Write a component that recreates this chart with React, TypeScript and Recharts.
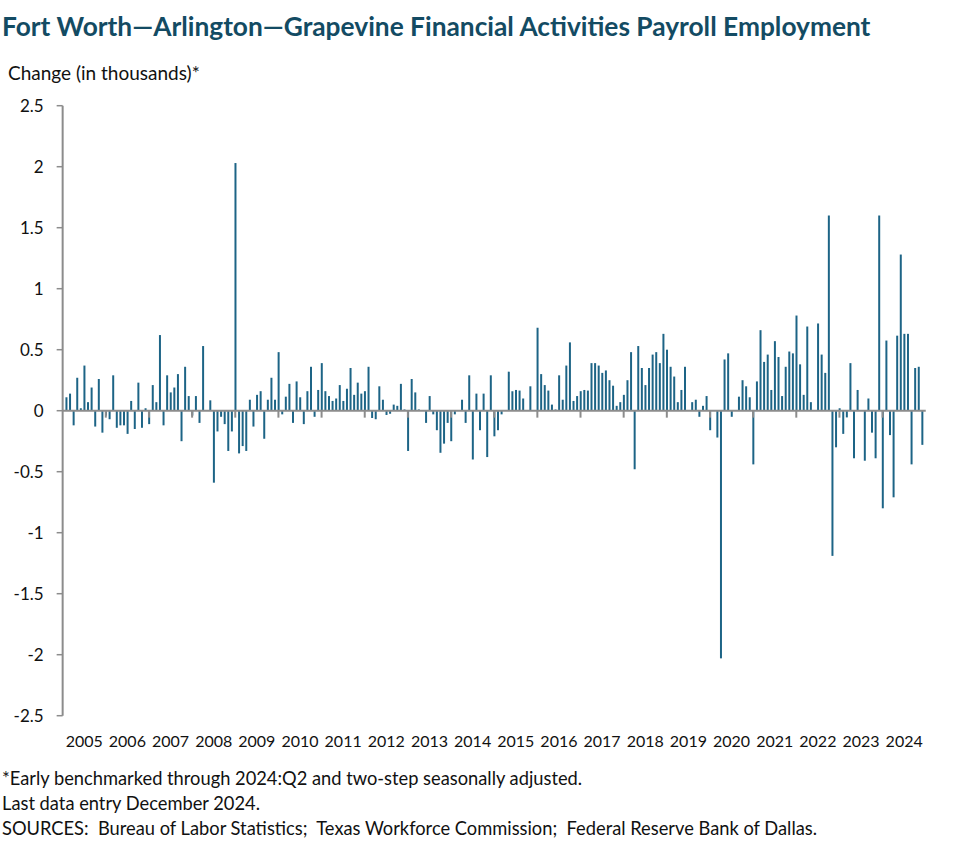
import { Bar, BarChart, ReferenceLine, XAxis, YAxis } from "recharts";

// year labels on the x axis
const years = [
  2005, 2006, 2007, 2008, 2009, 2010, 2011, 2012, 2013, 2014,
  2015, 2016, 2017, 2018, 2019, 2020, 2021, 2022, 2023, 2024,
];

// monthly change, thousands (Jan..Dec per row)
const changes = [
  0, 0.11, 0.14, -0.12, 0.27, 0.02, 0.37, 0.07, 0.19, -0.13, 0.26, -0.18, // 2005
  -0.04, -0.07, 0.29, -0.14, -0.12, -0.12, -0.19, 0.08, -0.15, 0.23, -0.14, 0.02, // 2006
  -0.11, 0.21, 0.07, 0.62, -0.12, 0.29, 0.15, 0.19, 0.3, -0.25, 0.36, 0.12, // 2007
  -0.04, 0.12, -0.1, 0.53, 0, 0.085, -0.59, -0.17, -0.05, -0.11, -0.33, -0.17, // 2008
  2.03, -0.35, -0.29, -0.33, 0.09, -0.13, 0.13, 0.16, -0.23, 0.09, 0.27, 0.09, // 2009
  0.48, -0.03, 0.115, 0.22, -0.1, 0.24, 0.11, -0.11, 0.16, 0.36, -0.05, 0.17, // 2010
  0.39, 0.16, 0.12, 0.08, 0.1, 0.21, 0.08, 0.18, 0.35, 0.13, 0.23, 0.14, // 2011
  0.16, 0.36, -0.06, -0.07, 0.2, 0.09, -0.035, -0.025, 0.05, 0.04, 0.22, 0.01, // 2012
  -0.33, 0.26, 0.15, 0.01, 0, -0.1, 0.12, -0.03, -0.16, -0.345, -0.27, -0.1, // 2013
  -0.25, -0.03, 0, 0.09, -0.1, 0.29, -0.4, 0.14, -0.16, 0.14, -0.38, 0.29, // 2014
  -0.21, -0.16, -0.03, 0, 0.32, 0.16, 0.17, 0.165, 0.1, 0, 0.2, 0, // 2015
  0.68, 0.3, 0.21, 0.165, 0.05, 0.01, 0.29, 0.09, 0.37, 0.56, 0.08, 0.12, // 2016
  0.16, 0.17, 0.165, 0.39, 0.39, 0.37, 0.31, 0.33, 0.25, 0.205, 0.04, 0.07, // 2017
  0.13, 0.25, 0.48, -0.48, 0.53, 0.35, 0.21, 0.35, 0.46, 0.48, 0.39, 0.63, // 2018
  0.5, 0.36, 0.28, 0.07, 0.17, 0.36, 0, 0.07, 0.09, -0.05, 0.04, 0.12, // 2019
  -0.16, 0, -0.22, -2.03, 0.42, 0.47, -0.05, 0, 0.115, 0.25, 0.2, 0.11, // 2020
  -0.44, 0.24, 0.66, 0.4, 0.46, 0.17, 0.57, 0.44, 0.12, 0.36, 0.485, 0.47, // 2021
  0.78, 0.38, 0.13, 0.69, 0.07, 0, 0.715, 0.46, 0.31, 1.6, -1.19, -0.3, // 2022
  0.02, -0.19, -0.055, 0.39, -0.39, 0.17, 0, -0.41, 0.1, -0.18, -0.39, 1.6, // 2023
  -0.8, 0.575, -0.2, -0.71, 0.615, 1.28, 0.63, 0.63, -0.44, 0.35, 0.36, -0.28, // 2024
];

const yTicks = [2.5, 2, 1.5, 1, 0.5, 0, -0.5, -1, -1.5, -2, -2.5];

const footnotes = [
  "*Early benchmarked through 2024:Q2 and two-step seasonally adjusted.",
  "Last data entry December 2024.",
  "SOURCES:  Bureau of Labor Statistics;  Texas Workforce Commission;  Federal Reserve Bank of Dallas.",
];

const data = changes.map((v, m) => ({ m, v }));
const yearTicks = years.map((_, i) => i * 12 + 6);
const yearEdges = years.slice(1).map((_, i) => (i + 1) * 12);

const FONT = "Lato, 'Noto Sans', sans-serif";
const GREY = "#8c8c8c";

export default function App() {
  return (
    <div
      style={{
        position: "absolute",
        left: 0,
        top: 0,
        width: 977,
        height: 864,
        background: "#fff",
        fontFamily: FONT,
        color: "#111",
      }}
    >
      <div
        style={{
          position: "absolute",
          left: 2,
          top: 10,
          fontSize: 26.3,
          lineHeight: "32px",
          fontWeight: 700,
          color: "#134b63",
          whiteSpace: "nowrap",
        }}
      >
        Fort Worth—Arlington—Grapevine Financial Activities Payroll Employment
      </div>
      <div
        style={{
          position: "absolute",
          left: 8,
          top: 61,
          fontSize: 19,
          lineHeight: "24px",
          whiteSpace: "nowrap",
        }}
      >
        Change (in thousands)*
      </div>

      <div style={{ position: "absolute", left: 0, top: 0 }}>
        <BarChart
          width={977}
          height={760}
          data={data}
          margin={{ top: 105.7, right: 51.25, bottom: 4.3, left: 0 }}
        >
          <XAxis
            type="number"
            dataKey="m"
            domain={[0, 240]}
            ticks={yearTicks}
            tickFormatter={(v) => String(years[(v - 6) / 12])}
            axisLine={false}
            tickLine={false}
            tickSize={0}
            tickMargin={19.6}
            height={40}
            interval={0}
            tick={{ fill: "#111", fontSize: 16, fontFamily: FONT }}
          />
          <YAxis
            type="number"
            domain={[-2.5, 2.5]}
            ticks={yTicks}
            width={62.65}
            interval={0}
            axisLine={{ stroke: GREY, strokeWidth: 2 }}
            tickLine={{ stroke: GREY, strokeWidth: 1.5 }}
            tickSize={6}
            tickMargin={13}
            tick={{ fill: "#111", fontSize: 17, fontFamily: FONT }}
          />
          <Bar dataKey="v" fill="#1d6486" barSize={2} isAnimationActive={false} />
          <ReferenceLine y={0} stroke={GREY} strokeWidth={2} />
          {yearEdges.map((e) => (
            <ReferenceLine
              key={e}
              segment={[
                { x: e, y: 0 },
                { x: e, y: -0.057 },
              ]}
              stroke={GREY}
              strokeWidth={2}
            />
          ))}
        </BarChart>
      </div>

      {footnotes.map((t, i) => (
        <div
          key={i}
          style={{
            position: "absolute",
            left: 2,
            top: 766 + i * 25,
            fontSize: 18.3,
            lineHeight: "24px",
            whiteSpace: "pre",
          }}
        >
          {t}
        </div>
      ))}
    </div>
  );
}
